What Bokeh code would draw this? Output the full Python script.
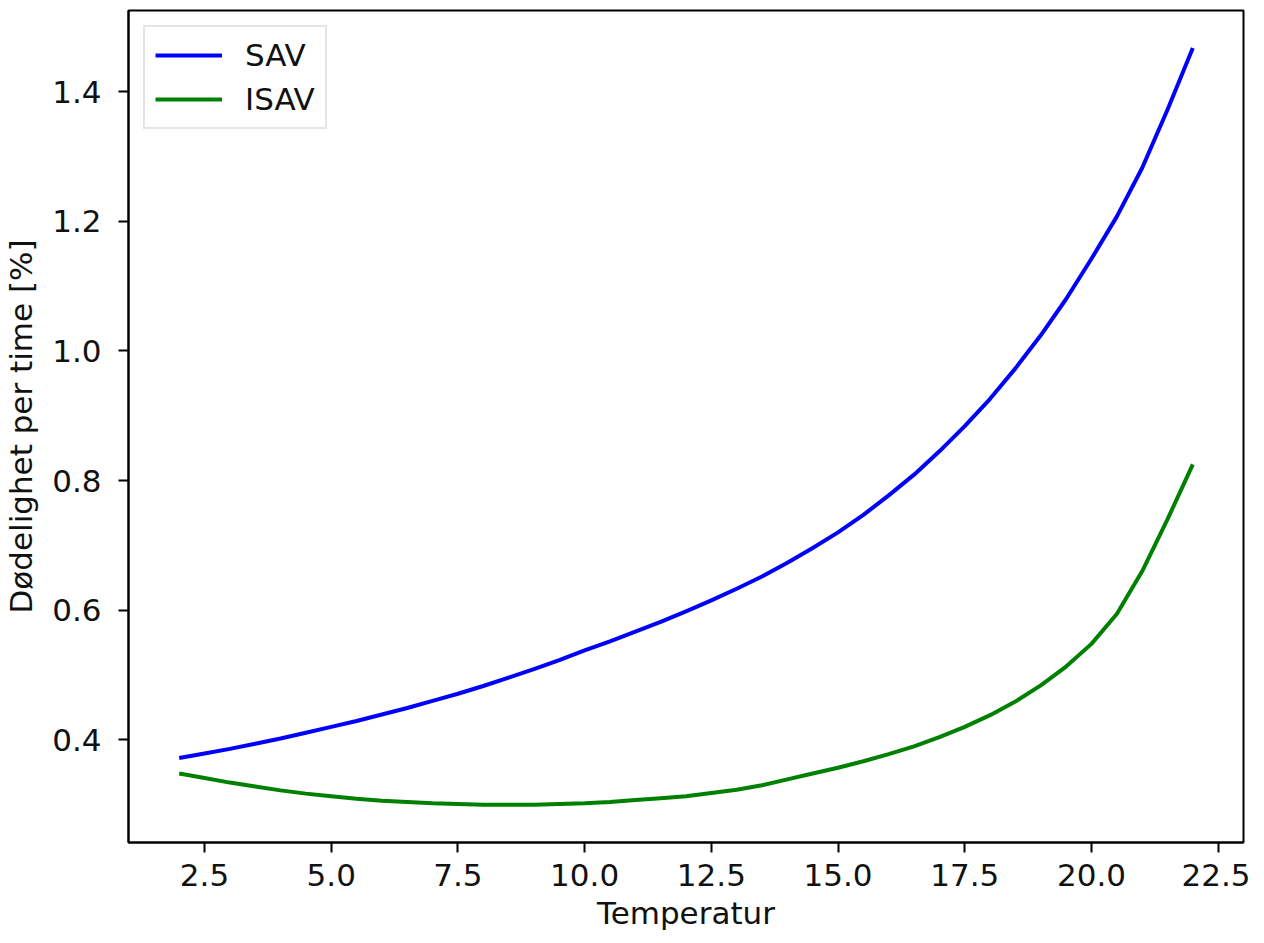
from bokeh.plotting import figure
from bokeh.embed import file_html
from bokeh.resources import INLINE
from bokeh.models import Range1d, FixedTicker, NumeralTickFormatter

# ---- data ----
temperature = [2.0, 2.5, 3.0, 3.5, 4.0, 4.5, 5.0, 5.5, 6.0, 6.5, 7.0, 7.5, 8.0, 8.5, 9.0, 9.5,
               10.0, 10.5, 11.0, 11.5, 12.0, 12.5, 13.0, 13.5, 14.0, 14.5, 15.0, 15.5, 16.0,
               16.5, 17.0, 17.5, 18.0, 18.5, 19.0, 19.5, 20.0, 20.5, 21.0, 21.5, 22.0]
sav = [0.372, 0.379, 0.386, 0.394, 0.402, 0.411, 0.420, 0.429, 0.439, 0.449, 0.460, 0.471,
       0.483, 0.496, 0.509, 0.523, 0.538, 0.552, 0.567, 0.582, 0.598, 0.615, 0.633, 0.652,
       0.673, 0.696, 0.720, 0.747, 0.777, 0.809, 0.845, 0.884, 0.926, 0.973, 1.024, 1.080,
       1.142, 1.207, 1.282, 1.372, 1.467]
isav = [0.348, 0.341, 0.334, 0.328, 0.322, 0.317, 0.313, 0.309, 0.306, 0.304, 0.302, 0.301,
        0.300, 0.300, 0.300, 0.301, 0.302, 0.304, 0.307, 0.310, 0.313, 0.318, 0.323, 0.330,
        0.339, 0.348, 0.357, 0.367, 0.378, 0.390, 0.404, 0.420, 0.438, 0.459, 0.484, 0.513,
        0.548, 0.594, 0.660, 0.740, 0.825]
x_ticks = [2.5, 5.0, 7.5, 10.0, 12.5, 15.0, 17.5, 20.0, 22.5]
y_ticks = [0.4, 0.6, 0.8, 1.0, 1.2, 1.4]
series_names = ["SAV", "ISAV"]
series_colors = ["#0000ff", "#008000"]

FONT = "DejaVu Sans"
FS = "31px"
TXT = "#111111"

p = figure(width=1250, height=935, output_backend="svg", toolbar_location=None,
           x_range=Range1d(1.0, 23.0), y_range=Range1d(0.2416, 1.525),
           min_border_left=127, min_border_right=7, min_border_top=10, min_border_bottom=93)

for name, ys, col in zip(series_names, [sav, isav], series_colors):
    p.line(temperature, ys, line_color=col, line_width=4, line_join="round",
           legend_label=name)

p.xgrid.visible = False
p.ygrid.visible = False
p.outline_line_color = "black"
p.outline_line_width = 2
p.outline_line_alpha = 1.0

p.xaxis.ticker = FixedTicker(ticks=x_ticks)
p.yaxis.ticker = FixedTicker(ticks=y_ticks)
p.xaxis.formatter = NumeralTickFormatter(format="0.0")
p.yaxis.formatter = NumeralTickFormatter(format="0.0")
p.xaxis.axis_label = "Temperatur"
p.yaxis.axis_label = "Dødelighet per time [%]"

for ax in (p.xaxis, p.yaxis):
    ax.axis_line_color = "black"
    ax.axis_line_width = 2
    ax.major_tick_line_color = "black"
    ax.major_tick_line_width = 2
    ax.major_tick_out = 10
    ax.major_tick_in = 0
    ax.minor_tick_line_color = None
    ax.major_label_text_font = FONT
    ax.major_label_text_font_size = FS
    ax.major_label_text_color = TXT
    ax.axis_label_text_font = FONT
    ax.axis_label_text_font_size = FS
    ax.axis_label_text_font_style = "normal"
    ax.axis_label_text_color = TXT

p.xaxis.major_label_standoff = 11
p.yaxis.major_label_standoff = 17
p.xaxis.axis_label_standoff = 6
p.yaxis.axis_label_standoff = 10

lg = p.legend[0]
lg.location = "top_left"
lg.margin = 15
lg.padding = 10
lg.spacing = 8
lg.glyph_width = 67
lg.glyph_height = 36
lg.label_height = 36
lg.label_standoff = 23
lg.label_text_font = FONT
lg.label_text_font_size = FS
lg.label_text_color = TXT
lg.border_line_color = "#cccccc"
lg.border_line_width = 2
lg.background_fill_alpha = 0.8

open("out.html", "w").write(file_html(p, INLINE))
